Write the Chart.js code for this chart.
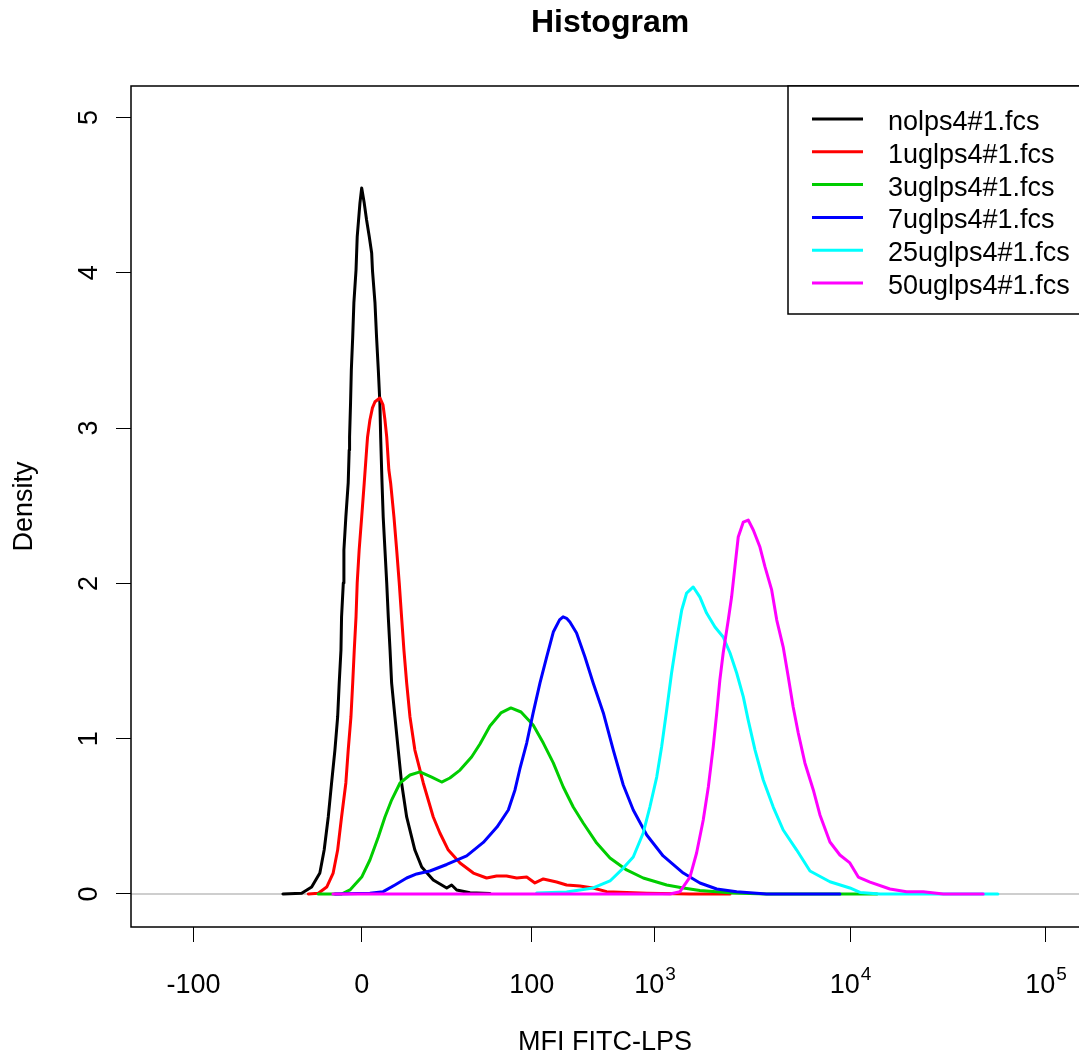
<!DOCTYPE html>
<html>
<head>
<meta charset="utf-8">
<title>Histogram</title>
<script src="https://cdn.jsdelivr.net/npm/chart.js@4/dist/chart.umd.min.js"></script>
<style>
  html, body { margin: 0; padding: 0; background: #ffffff; overflow: hidden; }
  canvas { display: block; }
</style>
</head>
<body>
<canvas id="c" width="1079" height="1059"></canvas>
<script>
// Sample names, one density curve each.
const seriesNames = ['nolps4#1.fcs', '1uglps4#1.fcs', '3uglps4#1.fcs', '7uglps4#1.fcs', '25uglps4#1.fcs', '50uglps4#1.fcs'];

// Density curves as [x, density]; x is on the biexponential display scale
// (3 = 10^3, 4 = 10^4, ..., 1.5 = 0).
const noLps = [[1.097,0],[1.193,0.005],[1.244,0.045],[1.286,0.135],[1.308,0.283],[1.329,0.496],[1.346,0.715],[1.363,0.927],[1.377,1.140],[1.385,1.359],[1.394,1.571],[1.397,1.784],[1.406,2.003],[1.409,2.215],[1.419,2.428],[1.431,2.647],[1.436,2.859],[1.438,2.943],[1.443,3.162],[1.447,3.374],[1.454,3.587],[1.460,3.806],[1.471,4.018],[1.477,4.231],[1.491,4.449],[1.500,4.546],[1.513,4.449],[1.525,4.340],[1.539,4.231],[1.551,4.128],[1.555,4.018],[1.568,3.806],[1.576,3.587],[1.585,3.374],[1.593,3.162],[1.597,2.943],[1.602,2.730],[1.604,2.647],[1.610,2.428],[1.619,2.215],[1.628,2.003],[1.636,1.784],[1.645,1.571],[1.653,1.359],[1.670,1.140],[1.687,0.927],[1.704,0.715],[1.730,0.496],[1.772,0.283],[1.807,0.174],[1.866,0.090],[1.935,0.039],[1.960,0.058],[1.986,0.026],[2.054,0.008],[2.156,0.003]];
const lps1 = [[1.227,0],[1.278,0.005],[1.321,0.045],[1.354,0.135],[1.377,0.283],[1.397,0.496],[1.419,0.715],[1.431,0.927],[1.445,1.140],[1.454,1.359],[1.462,1.571],[1.471,1.784],[1.477,2.003],[1.487,2.215],[1.500,2.428],[1.513,2.647],[1.525,2.859],[1.530,2.943],[1.542,3.052],[1.555,3.130],[1.568,3.170],[1.593,3.194],[1.609,3.149],[1.619,3.052],[1.628,2.943],[1.639,2.730],[1.648,2.647],[1.665,2.428],[1.679,2.215],[1.692,2.003],[1.704,1.784],[1.716,1.571],[1.730,1.359],[1.747,1.140],[1.772,0.927],[1.815,0.715],[1.866,0.496],[1.900,0.393],[1.943,0.283],[2.003,0.200],[2.071,0.135],[2.139,0.103],[2.190,0.116],[2.241,0.116],[2.293,0.103],[2.344,0.109],[2.386,0.071],[2.429,0.097],[2.497,0.077],[2.548,0.058],[2.616,0.052],[2.683,0.039],[2.753,0.015],[2.958,0.005],[3.179,0],[3.384,0]];
const lps3 = [[1.278,0],[1.397,0],[1.440,0.026],[1.500,0.109],[1.542,0.219],[1.585,0.367],[1.619,0.496],[1.653,0.605],[1.696,0.715],[1.747,0.766],[1.798,0.786],[1.858,0.753],[1.909,0.721],[1.951,0.747],[2.003,0.798],[2.062,0.882],[2.105,0.966],[2.156,1.082],[2.212,1.166],[2.263,1.198],[2.315,1.172],[2.377,1.088],[2.429,0.972],[2.480,0.844],[2.531,0.689],[2.582,0.560],[2.633,0.457],[2.702,0.328],[2.770,0.232],[2.855,0.155],[2.940,0.103],[3.060,0.058],[3.145,0.039],[3.230,0.023],[3.399,0.006],[3.571,0],[4.136,0]];
const lps7 = [[1.363,0],[1.542,0.005],[1.610,0.015],[1.670,0.058],[1.730,0.103],[1.781,0.129],[1.849,0.148],[1.935,0.190],[2.037,0.245],[2.122,0.332],[2.192,0.431],[2.250,0.541],[2.284,0.670],[2.309,0.805],[2.344,0.972],[2.377,1.166],[2.412,1.359],[2.446,1.526],[2.480,1.687],[2.512,1.765],[2.530,1.785],[2.548,1.775],[2.565,1.751],[2.599,1.681],[2.642,1.526],[2.684,1.359],[2.736,1.166],[2.787,0.927],[2.838,0.702],[2.889,0.541],[2.958,0.380],[3.042,0.245],[3.145,0.135],[3.230,0.071],[3.316,0.032],[3.418,0.015],[3.571,0],[3.946,0]];
const lps25 = [[2.395,0.006],[2.548,0.013],[2.684,0.039],[2.770,0.084],[2.838,0.167],[2.889,0.238],[2.940,0.393],[2.974,0.560],[3.009,0.753],[3.034,0.947],[3.060,1.185],[3.085,1.423],[3.111,1.636],[3.137,1.829],[3.162,1.938],[3.196,1.977],[3.230,1.912],[3.264,1.809],[3.307,1.719],[3.349,1.655],[3.384,1.552],[3.418,1.423],[3.452,1.269],[3.477,1.120],[3.512,0.927],[3.554,0.734],[3.605,0.560],[3.656,0.412],[3.725,0.283],[3.793,0.148],[3.895,0.079],[3.997,0.039],[4.049,0.010],[4.151,0],[4.754,0]];
const lps50 = [[1.353,0],[3.077,0],[3.128,0.015],[3.179,0.109],[3.213,0.264],[3.247,0.477],[3.273,0.689],[3.298,0.947],[3.316,1.166],[3.332,1.378],[3.349,1.552],[3.375,1.764],[3.392,1.912],[3.409,2.106],[3.426,2.299],[3.452,2.395],[3.477,2.408],[3.503,2.344],[3.537,2.234],[3.563,2.106],[3.597,1.958],[3.623,1.764],[3.656,1.590],[3.682,1.397],[3.707,1.204],[3.733,1.037],[3.767,0.844],[3.810,0.670],[3.844,0.509],[3.895,0.335],[3.946,0.251],[3.997,0.200],[4.040,0.109],[4.100,0.077],[4.202,0.032],[4.287,0.015],[4.372,0.015],[4.475,0],[4.679,0]];

// Axis ticks: positions on the display scale and the labels they carry
// ("base^exp" is written with a raised exponent).
const xTickValues = [0.64, 1.5, 2.37, 3, 4, 5];
const xTickLabels = ['-100', '0', '100', '10^3', '10^4', '10^5'];
const yTickValues = [0, 1, 2, 3, 4, 5];
const yTickLabels = ['0', '1', '2', '3', '4', '5'];

const chartTitle = 'Histogram';
const xTitle = 'MFI FITC-LPS';
const yTitle = 'Density';

// R's default palette: black, red, green3, blue, cyan, magenta.
const palette = ['#000000', '#FF0000', '#00CD00', '#0000FF', '#00FFFF', '#FF00FF'];
const FONT = '"Liberation Sans", Arial, Helvetica, sans-serif';
const TEXT_SIZE = 27;

const curves = [noLps, lps1, lps3, lps7, lps25, lps50];

const datasets = curves.map((pts, i) => ({
  label: seriesNames[i],
  data: pts.map(p => ({ x: p[0], y: p[1] })),
  showLine: true,
  borderColor: palette[i],
  backgroundColor: palette[i],
  borderWidth: 3,
  borderCapStyle: 'round',
  borderJoinStyle: 'round',
  pointRadius: 0,
  fill: false,
  tension: 0,
  // later samples are painted over earlier ones
  order: curves.length - i
}));

// Zero line, plot frame, tick labels, main title and the boxed legend.
const decorations = {
  id: 'decorations',
  beforeDatasetsDraw(chart) {
    const { ctx, chartArea: a, scales: { y } } = chart;
    const y0 = y.getPixelForValue(0);
    ctx.save();
    ctx.strokeStyle = '#BEBEBE';
    ctx.lineWidth = 1.5;
    ctx.beginPath();
    ctx.moveTo(a.left, y0);
    ctx.lineTo(a.right, y0);
    ctx.stroke();
    ctx.restore();
  },
  afterDraw(chart) {
    const { ctx, chartArea: a, scales: { x, y } } = chart;
    ctx.save();

    // frame around the plot region
    ctx.strokeStyle = '#000';
    ctx.lineWidth = 1.5;
    ctx.strokeRect(a.left, a.top, a.right - a.left + 20, a.bottom - a.top);

    // x tick labels, with powers of ten drawn as superscripts
    ctx.fillStyle = '#000';
    ctx.textBaseline = 'alphabetic';
    ctx.textAlign = 'left';
    const baseY = a.bottom + 66;
    x.ticks.forEach((t, i) => {
      const px = x.getPixelForValue(t.value);
      const [base, exp] = xTickLabels[i].split('^');
      ctx.font = TEXT_SIZE + 'px ' + FONT;
      const wb = ctx.measureText(base).width;
      let we = 0;
      if (exp) {
        ctx.font = '19px ' + FONT;
        we = ctx.measureText(exp).width + 1;
      }
      const start = px - (wb + we) / 2;
      ctx.font = TEXT_SIZE + 'px ' + FONT;
      ctx.fillText(base, start, baseY);
      if (exp) {
        ctx.font = '19px ' + FONT;
        ctx.fillText(exp, start + wb + 1, baseY - 13);
      }
    });

    // y tick labels, written along the axis
    ctx.font = TEXT_SIZE + 'px ' + FONT;
    ctx.textAlign = 'center';
    y.ticks.forEach((t, i) => {
      const py = y.getPixelForValue(t.value);
      ctx.save();
      ctx.translate(a.left - 34, py);
      ctx.rotate(-Math.PI / 2);
      ctx.fillText(yTickLabels[i], 0, 0);
      ctx.restore();
    });

    // main title centred over the plot
    ctx.font = 'bold 32px ' + FONT;
    ctx.textAlign = 'center';
    ctx.fillText(chartTitle, (a.left + a.right) / 2 + 5, 32);

    // legend in the top-right corner
    const lx = a.right - 291;
    ctx.lineWidth = 1.5;
    ctx.fillStyle = '#fff';
    ctx.fillRect(lx, a.top, 320, 228);
    ctx.strokeStyle = '#000';
    ctx.strokeRect(lx, a.top, 320, 228);
    ctx.font = TEXT_SIZE + 'px ' + FONT;
    ctx.textAlign = 'left';
    chart.data.datasets.forEach((ds, i) => {
      const ry = a.top + 33 + 32.8 * i;
      ctx.strokeStyle = ds.borderColor;
      ctx.lineWidth = 3;
      ctx.beginPath();
      ctx.moveTo(lx + 24, ry);
      ctx.lineTo(lx + 75, ry);
      ctx.stroke();
      ctx.fillStyle = '#000';
      ctx.fillText(ds.label, lx + 100, ry + 11);
    });

    ctx.restore();
  }
};

new Chart(document.getElementById('c'), {
  type: 'scatter',
  data: { datasets },
  options: {
    responsive: false,
    animation: false,
    devicePixelRatio: 1,
    layout: { padding: { top: 86, left: 0, right: 0, bottom: 0 } },
    plugins: {
      legend: { display: false },
      title: { display: false },
      tooltip: { enabled: false }
    },
    scales: {
      x: {
        type: 'linear',
        position: 'bottom',
        min: 0.32,
        max: 5.169,
        afterFit(s) { s.height = 132; s.paddingLeft = 0; s.paddingRight = 0; },
        afterBuildTicks(s) { s.ticks = xTickValues.map(v => ({ value: v })); },
        ticks: { display: false },
        grid: { drawOnChartArea: false, drawTicks: true, tickLength: 15, color: '#000', lineWidth: 1 },
        border: { display: false },
        title: {
          display: true,
          text: xTitle,
          color: '#000',
          font: { family: FONT, size: TEXT_SIZE },
          padding: { top: 0, bottom: 0 }
        }
      },
      y: {
        type: 'linear',
        position: 'left',
        min: -0.2125,
        max: 5.203,
        afterFit(s) { s.width = 131; s.paddingTop = 0; s.paddingBottom = 0; },
        afterBuildTicks(s) { s.ticks = yTickValues.map(v => ({ value: v })); },
        ticks: { display: false },
        grid: { drawOnChartArea: false, drawTicks: true, tickLength: 15, color: '#000', lineWidth: 1 },
        border: { display: false },
        title: {
          display: true,
          text: yTitle,
          color: '#000',
          font: { family: FONT, size: TEXT_SIZE },
          padding: { top: 8, bottom: 0 }
        }
      }
    }
  },
  plugins: [decorations]
});
</script>
</body>
</html>
